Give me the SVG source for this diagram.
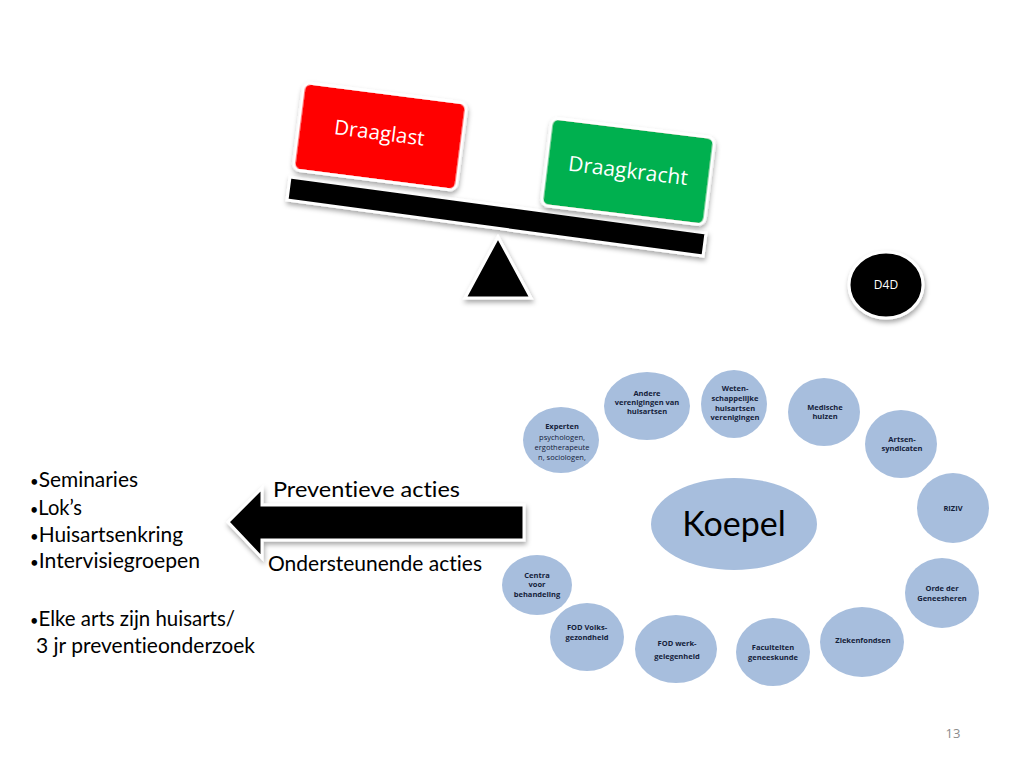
<svg xmlns="http://www.w3.org/2000/svg" width="1024" height="768" viewBox="0 0 1024 768">
<defs>
<filter id="sh" x="-20%" y="-20%" width="140%" height="150%">
<feDropShadow dx="1" dy="3" stdDeviation="2.5" flood-color="#000" flood-opacity="0.35"/>
</filter>
<style>
text{font-variant-ligatures:none;}
.box{stroke:#fff;stroke-width:3;filter:url(#sh);}
.bl{fill:#a7bedd;}
.sm{font-family:"Open Sans","Liberation Sans",sans-serif;font-size:7.5px;font-weight:bold;fill:#14213a;text-anchor:middle;}
.smn{font-weight:normal;}
.big{font-family:Lato,"Open Sans","Liberation Sans",sans-serif;font-size:21px;fill:#000;}
.bu{font-size:15px;}
.wt{font-family:"Open Sans","Liberation Sans",sans-serif;fill:#fff;text-anchor:middle;}
</style>
</defs>
<rect width="1024" height="768" fill="#fff"/>

<g id="balance">
<polygon class="box" points="290,177 706,233 703,256 287,200" fill="#000"/>
<polygon class="box" points="498,237 465,298 531,298" fill="#000"/>
</g>

<g id="draaglast">
<rect class="box" x="298" y="92.5" width="164" height="88" rx="7" fill="#ff0000" transform="rotate(7.3 380 136.5)"/>
<text class="wt" x="379" y="140" font-size="20.5" transform="rotate(7.3 380 136.5)">Draaglast</text>
</g>

<g id="draagkracht">
<rect class="box" x="546" y="127.5" width="164" height="88" rx="7" fill="#00b050" transform="rotate(7 628 171.5)"/>
<text class="wt" x="628" y="178" font-size="21" transform="rotate(7 628 171.5)">Draagkracht</text>
</g>

<g id="d4d">
<ellipse class="box" cx="886" cy="285" rx="37" ry="33" fill="#000"/>
<text class="wt" x="886" y="289" font-size="12">D4D</text>
</g>

<g id="arrow">
<polygon class="box" points="228,522 262,488 262,505 524,505 524,540 262,540 262,558" fill="#000"/>
<text class="big" x="273" y="497" font-size="22" textLength="187" lengthAdjust="spacingAndGlyphs">Preventieve acties</text>
<text class="big" x="268" y="571" font-size="22" textLength="214" lengthAdjust="spacingAndGlyphs">Ondersteunende acties</text>
</g>

<g id="list">
<text class="big" x="30" y="487" textLength="108" lengthAdjust="spacingAndGlyphs"><tspan class="bu">•</tspan>Seminaries</text>
<text class="big" x="30" y="515" textLength="52" lengthAdjust="spacingAndGlyphs"><tspan class="bu">•</tspan>Lok’s</text>
<text class="big" x="30" y="542" textLength="153" lengthAdjust="spacingAndGlyphs"><tspan class="bu">•</tspan>Huisartsenkring</text>
<text class="big" x="30" y="568" textLength="170" lengthAdjust="spacingAndGlyphs"><tspan class="bu">•</tspan>Intervisiegroepen</text>
<text class="big" x="30" y="626" textLength="205" lengthAdjust="spacingAndGlyphs"><tspan class="bu">•</tspan>Elke arts zijn huisarts/</text>
<text class="big" x="36" y="653" textLength="219" lengthAdjust="spacingAndGlyphs">3 jr preventieonderzoek</text>
</g>

<g id="koepel">
<ellipse class="bl" cx="734" cy="524" rx="83" ry="46"/>
<text x="734" y="536" font-size="34" text-anchor="middle" font-family="Lato,'Open Sans','Liberation Sans',sans-serif" fill="#000">Koepel</text>
</g>

<g id="experten">
<ellipse class="bl" cx="561" cy="440" rx="38" ry="33"/>
<text class="sm" x="562" y="429">Experten</text>
<text class="sm smn" x="562" y="440">psychologen,</text>
<text class="sm smn" x="562" y="450">ergotherapeute</text>
<text class="sm smn" x="562" y="460">n, sociologen,</text>
</g>

<g id="andere">
<ellipse class="bl" cx="647" cy="406" rx="43" ry="34"/>
<text class="sm" x="647" y="396">Andere</text>
<text class="sm" x="647" y="405">verenigingen van</text>
<text class="sm" x="647" y="414">huisartsen</text>
</g>

<g id="weten">
<ellipse class="bl" cx="734" cy="404" rx="33" ry="34"/>
<text class="sm" x="735" y="391">Weten-</text>
<text class="sm" x="735" y="401">schappelijke</text>
<text class="sm" x="735" y="411">huisartsen</text>
<text class="sm" x="735" y="420">verenigingen</text>
</g>

<g id="medische">
<ellipse class="bl" cx="824" cy="412" rx="36" ry="34"/>
<text class="sm" x="825" y="410">Medische</text>
<text class="sm" x="825" y="419">huizen</text>
</g>

<g id="artsen">
<ellipse class="bl" cx="901" cy="444" rx="36" ry="34"/>
<text class="sm" x="902" y="442">Artsen-</text>
<text class="sm" x="902" y="451">syndicaten</text>
</g>

<g id="riziv">
<ellipse class="bl" cx="953" cy="508" rx="36" ry="35"/>
<text class="sm" x="953" y="511" font-size="6.5">RIZIV</text>
</g>

<g id="orde">
<ellipse class="bl" cx="942" cy="593" rx="37" ry="35"/>
<text class="sm" x="942" y="591">Orde der</text>
<text class="sm" x="942" y="601">Geneesheren</text>
</g>

<g id="ziekenfondsen">
<ellipse class="bl" cx="862" cy="642" rx="42" ry="35"/>
<text class="sm" x="863" y="643">Ziekenfondsen</text>
</g>

<g id="faculteiten">
<ellipse class="bl" cx="773" cy="652" rx="37" ry="34"/>
<text class="sm" x="773" y="650">Faculteiten</text>
<text class="sm" x="773" y="660">geneeskunde</text>
</g>

<g id="fodwerk">
<ellipse class="bl" cx="676" cy="649" rx="41" ry="34"/>
<text class="sm" x="677" y="646">FOD werk-</text>
<text class="sm" x="677" y="659">gelegenheid</text>
</g>

<g id="fodvolks">
<ellipse class="bl" cx="587" cy="637" rx="37" ry="34"/>
<text class="sm" x="587" y="630">FOD Volks-</text>
<text class="sm" x="587" y="640">gezondheid</text>
</g>

<g id="centra">
<ellipse class="bl" cx="537" cy="585" rx="35" ry="30"/>
<text class="sm" x="537" y="578">Centra</text>
<text class="sm" x="537" y="587">voor</text>
<text class="sm" x="537" y="597">behandeling</text>
</g>

<g id="connectors"></g>

<text x="953" y="738" font-size="13" fill="#8c8c8c" text-anchor="middle" font-family="'Open Sans','Liberation Sans',sans-serif">13</text>
</svg>
